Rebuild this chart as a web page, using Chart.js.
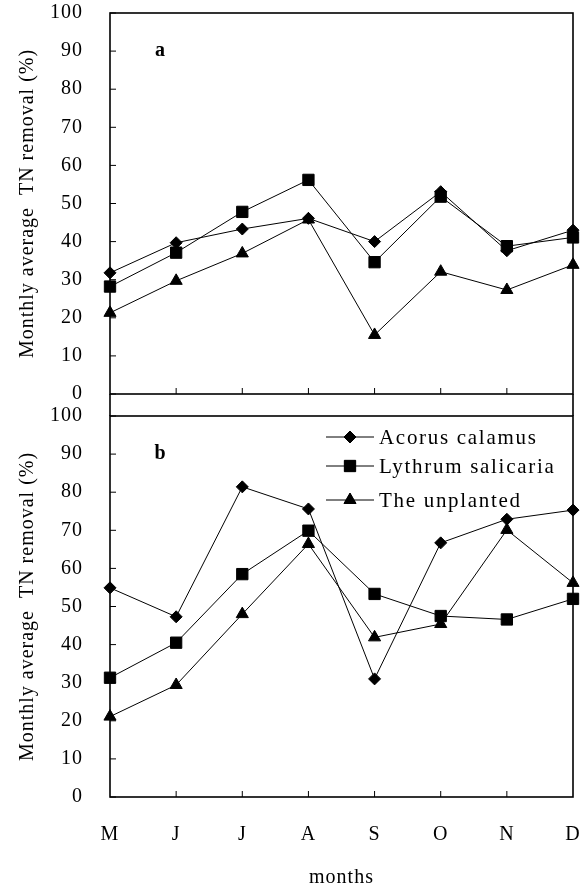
<!DOCTYPE html>
<html>
<head>
<meta charset="utf-8">
<script src="https://cdn.jsdelivr.net/npm/chart.js@4.4.1/dist/chart.umd.min.js"></script>
<style>
  body { margin: 0; background: #fff; width: 582px; height: 890px; overflow: hidden; }
  canvas { position: absolute; left: 0; }
  #chartA { top: 0; }
  #chartB { top: 405px; }
</style>
</head>
<body>
<canvas id="chartA" width="582" height="405"></canvas>
<canvas id="chartB" width="582" height="485"></canvas>
<script>
// Months May..Dec
const months = ["M", "J", "J", "A", "S", "O", "N", "D"];
const seriesNames = ["Acorus calamus", "Lythrum salicaria", "The unplanted"];
const pointStyles = ["rectRot", "rect", "triangle"];
const pointSizes = [6, 8, 7];

// panel a
const acorusA = [31.8, 39.7, 43.3, 46.1, 40.0, 53.1, 37.6, 43.0];
const lythrumA = [28.2, 37.1, 47.8, 56.2, 34.6, 51.8, 38.8, 41.1];
const unplantedA = [21.3, 29.7, 36.9, 45.8, 15.5, 32.1, 27.3, 33.9];

// panel b
const acorusB = [54.9, 47.3, 81.4, 75.6, 31.0, 66.7, 72.9, 75.3];
const lythrumB = [31.3, 40.5, 58.5, 69.9, 53.3, 47.5, 46.6, 52.0];
const unplantedB = [21.1, 29.4, 48.0, 66.4, 41.9, 45.4, 70.1, 56.2];

const serif = "'Liberation Serif', 'Times New Roman', serif";

// box, inward ticks, panel letter and legend
const framePlugin = {
  id: "frame",
  beforeDraw(chart) {
    chart.ctx.letterSpacing = "1px";
  },
  afterDraw(chart, args, opts) {
    const ctx = chart.ctx;
    const a = chart.chartArea;
    const xs = chart.scales.x, ys = chart.scales.y;
    ctx.save();
    ctx.strokeStyle = "#000";
    ctx.lineWidth = 1.6;
    ctx.strokeRect(a.left, a.top, a.right - a.left, a.bottom - a.top);
    ctx.beginPath();
    if (opts.join === "down") {
      ctx.moveTo(a.left, a.bottom); ctx.lineTo(a.left, chart.height);
      ctx.moveTo(a.right, a.bottom); ctx.lineTo(a.right, chart.height);
    } else {
      ctx.moveTo(a.left, 0); ctx.lineTo(a.left, a.top);
      ctx.moveTo(a.right, 0); ctx.lineTo(a.right, a.top);
    }
    ctx.stroke();

    ctx.lineWidth = 1;
    ctx.beginPath();
    ys.ticks.forEach((t, i) => {
      const py = ys.getPixelForTick(i);
      ctx.moveTo(a.left, py); ctx.lineTo(a.left + 6, py);
    });
    xs.ticks.forEach((t, i) => {
      if (i === 0 || i === xs.ticks.length - 1) return;
      const px = xs.getPixelForTick(i);
      ctx.moveTo(px, a.bottom); ctx.lineTo(px, a.bottom - 6);
    });
    ctx.stroke();

    ctx.fillStyle = "#000";
    ctx.letterSpacing = "0px";
    ctx.font = "bold 20px " + serif;
    ctx.textAlign = "center";
    ctx.textBaseline = "middle";
    ctx.fillText(opts.letter, a.left + 50, a.top + 38);

    if (opts.legend) {
      ctx.textAlign = "left";
      ctx.font = "21px " + serif;
      ctx.letterSpacing = "1.7px";
      const rows = [21, 50, 84];
      chart.data.datasets.forEach((ds, i) => {
        const y = a.top + rows[i];
        ctx.beginPath();
        ctx.moveTo(326, y); ctx.lineTo(374, y);
        ctx.stroke();
        Chart.helpers.drawPoint(ctx, {
          pointStyle: ds.pointStyle, radius: ds.pointRadius, rotation: 0, borderWidth: 1
        }, 350, y);
        ctx.fill();
        ctx.fillText(ds.label, 379, y + 1);
      });
    }
    ctx.restore();
  }
};

function makeDatasets(values) {
  return values.map((v, i) => ({
    label: seriesNames[i],
    data: v,
    borderColor: "#000",
    backgroundColor: "#000",
    borderWidth: 1,
    pointStyle: pointStyles[i],
    pointRadius: pointSizes[i],
    pointBackgroundColor: "#000",
    pointBorderColor: "#000",
    pointBorderWidth: 1,
    tension: 0,
    clip: false
  }));
}

// invisible tick marks are used to push the labels away from the axis
function hiddenGrid(len) {
  return { display: true, drawOnChartArea: false, drawTicks: true, tickLength: len, color: "rgba(0,0,0,0)" };
}

function makeChart(id, values, opts) {
  return new Chart(document.getElementById(id), {
    type: "line",
    data: { labels: months, datasets: makeDatasets(values) },
    plugins: [framePlugin],
    options: {
      responsive: false,
      animation: false,
      events: [],
      layout: { padding: { top: opts.padTop, right: 9, left: 0, bottom: 0 } },
      plugins: {
        legend: { display: false },
        tooltip: { enabled: false },
        frame: { letter: opts.letter, legend: opts.legend, join: opts.join }
      },
      scales: {
        x: {
          grid: hiddenGrid(28),
          border: { display: false },
          ticks: {
            display: opts.showX,
            color: "#000",
            padding: 0,
            maxRotation: 0,
            font: { family: serif, size: 20, lineHeight: 1 }
          },
          title: {
            display: opts.showX,
            text: "months",
            color: "#000",
            padding: { top: 0, bottom: 0 },
            font: { family: serif, size: 20 }
          },
          afterFit: (s) => { s.height = opts.xHeight; }
        },
        y: {
          min: 0,
          max: 100,
          grid: hiddenGrid(27),
          border: { display: false },
          ticks: {
            stepSize: 10,
            color: "#000",
            padding: 0,
            font: { family: serif, size: 20, lineHeight: 1 }
          },
          title: {
            display: true,
            text: "Monthly average  TN removal (%)",
            color: "#000",
            padding: { top: 16, bottom: 0 },
            font: { family: serif, size: 20 }
          },
          afterFit: (s) => { s.width = 110; }
        }
      }
    }
  });
}

makeChart("chartA", [acorusA, lythrumA, unplantedA],
  { padTop: 13, letter: "a", legend: false, join: "down", showX: false, xHeight: 11 });
makeChart("chartB", [acorusB, lythrumB, unplantedB],
  { padTop: 11, letter: "b", legend: true, join: "up", showX: true, xHeight: 93 });
</script>
</body>
</html>
